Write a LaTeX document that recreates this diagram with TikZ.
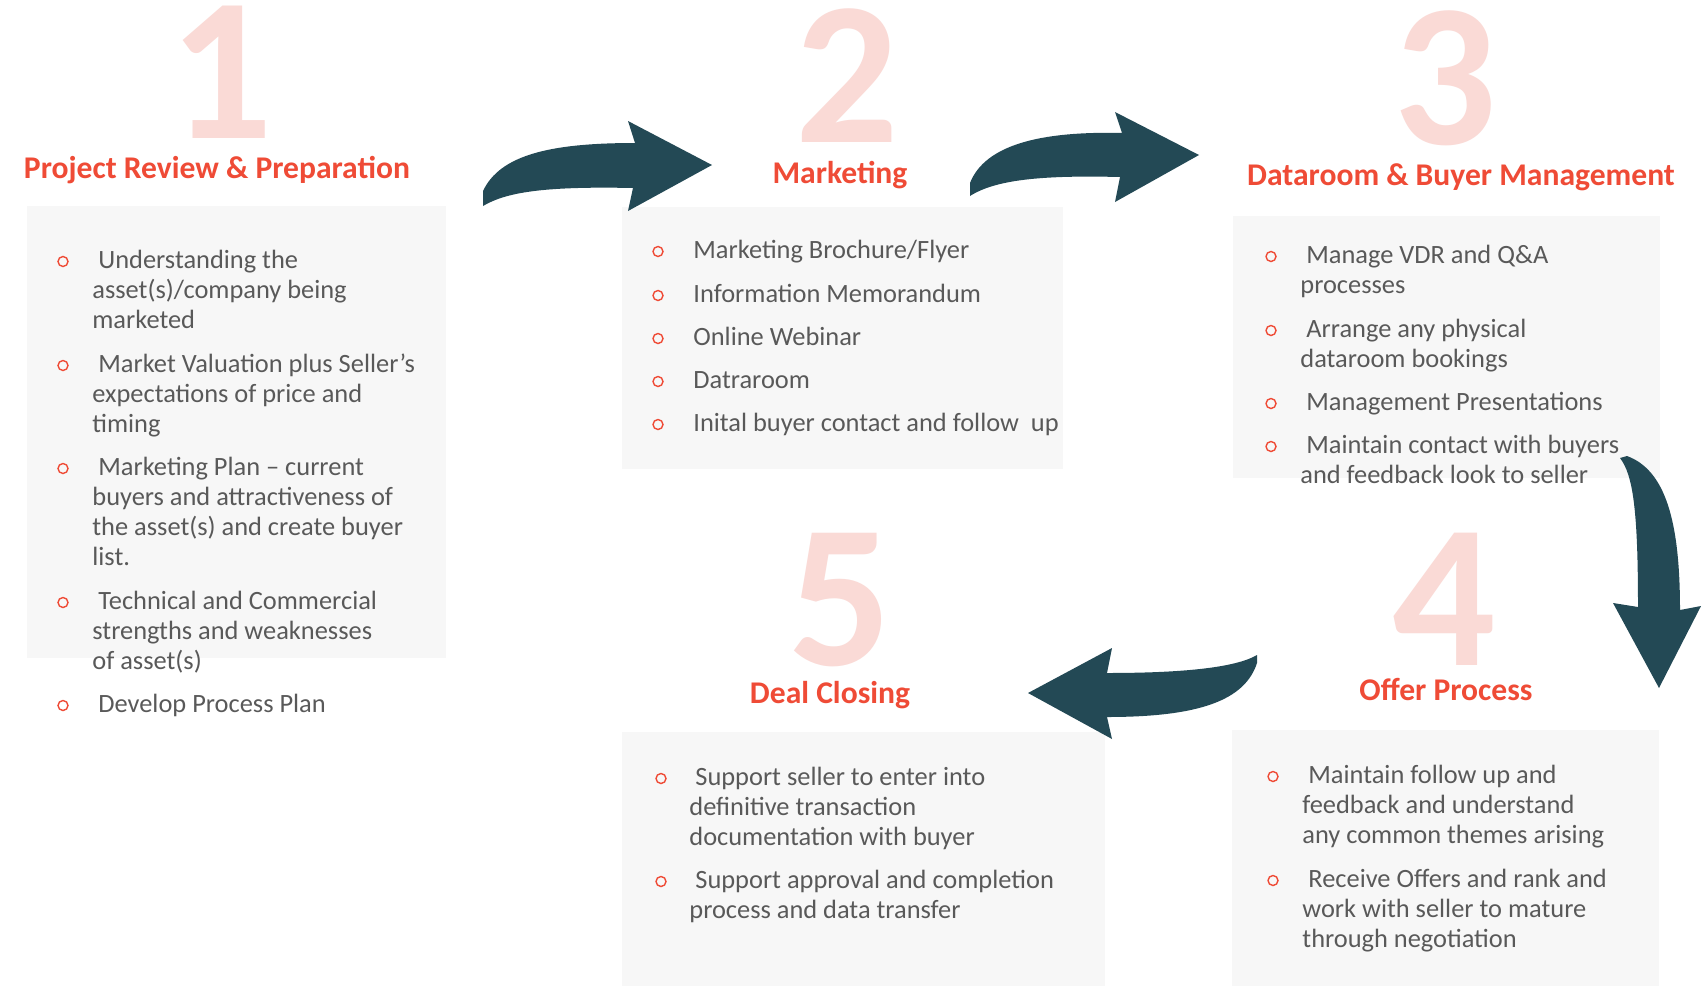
\documentclass[tikz,border=0pt]{standalone}
\usepackage{fontspec}
\setmainfont{Carlito}
\definecolor{tred}{HTML}{EF4B36}
\definecolor{tpink}{HTML}{FADAD6}
\definecolor{tgrey}{HTML}{595959}
\definecolor{tbox}{HTML}{F7F7F7}
\definecolor{tarrow}{HTML}{234955}
\newcommand\linesof[1]{\begin{tabular}[t]{@{}l@{}}#1\end{tabular}}
\begin{document}
\begin{tikzpicture}[x=0.5pt,y=-0.5pt,
  bignum/.style={anchor=base, inner sep=0, text height=64pt, text depth=0pt, text=tpink, font=\fontsize{102pt}{102pt}\selectfont\bfseries},
  ttl/.style={anchor=base, inner sep=0, text height=11pt, text depth=3pt, text=tred, font=\fontsize{15.8pt}{18pt}\selectfont\bfseries},
  panel/.style={fill=tbox, draw=none},
  bul/.style={circle, draw=tred, line width=0.7pt, minimum size=5pt, inner sep=0},
  itm/.style={anchor=base west, inner sep=0, text=tgrey, font=\fontsize{13.2pt}{15pt}\selectfont},
  blockarrow/.style={fill=tarrow, draw=none}]
\useasboundingbox (0,0) rectangle (1703,986);
\fill[white] (0,0) rectangle (1703,986);

% panels
\fill[panel] (27,206) rectangle (446,658);
\fill[panel] (622,207) rectangle (1063,469);
\fill[panel] (1233,216) rectangle (1660,478);
\fill[panel] (1232,730) rectangle (1659,986);
\fill[panel] (622,732) rectangle (1105,986);

% big numbers
\node[bignum] (n1) at (221,138) {1};
\node[bignum] (n2) at (847,142) {2};
\node[bignum] (n3) at (1445,144) {3};
\node[bignum] (n4) at (1444,665) {4};
\node[bignum] (n5) at (840,665) {5};

% titles
\node[ttl] (t1) at (217,178) {Project Review \& Preparation};
\node[ttl] (t2) at (840,183) {Marketing};
\node[ttl] (t3) at (1461,185) {Dataroom \& Buyer Management};
\node[ttl] (t4) at (1446,700) {Offer Process};
\node[ttl] (t5) at (830,703) {Deal Closing};

% box 1
\node[bul] (c1a) at (63,261.5) {};
\node[itm] (i1a) at (92,268) {\linesof{\hspace*{3pt}Understanding the\\asset(s)/company being\\marketed}};
\node[bul] (c1b) at (63,365.5) {};
\node[itm] (i1b) at (92,372) {\linesof{\hspace*{3pt}Market Valuation plus Seller’s\\expectations of price and\\timing}};
\node[bul] (c1c) at (63,468.5) {};
\node[itm] (i1c) at (92,475) {\linesof{\hspace*{3pt}Marketing Plan – current\\buyers and attractiveness of\\the asset(s) and create buyer\\list.}};
\node[bul] (c1d) at (63,602.5) {};
\node[itm] (i1d) at (92,609) {\linesof{\hspace*{3pt}Technical and Commercial\\strengths and weaknesses\\of asset(s)}};
\node[bul] (c1e) at (63,705.5) {};
\node[itm] (i1e) at (92,712) {\linesof{\hspace*{3pt}Develop Process Plan}};

% box 2
\node[bul] (c2a) at (658,251.5) {};
\node[itm] (i2a) at (693,258) {Marketing Brochure/Flyer};
\node[bul] (c2b) at (658,295.5) {};
\node[itm] (i2b) at (693,302) {Information Memorandum};
\node[bul] (c2c) at (658,338.5) {};
\node[itm] (i2c) at (693,345) {Online Webinar};
\node[bul] (c2d) at (658,381.5) {};
\node[itm] (i2d) at (693,388) {Datraroom};
\node[bul] (c2e) at (658,424.5) {};
\node[itm] (i2e) at (693,431) {Inital buyer contact and follow~ up};

% box 3
\node[bul] (c3a) at (1271,256.5) {};
\node[itm] (i3a) at (1300,263) {\linesof{\hspace*{3pt}Manage VDR and Q\&A\\processes}};
\node[bul] (c3b) at (1271,330.5) {};
\node[itm] (i3b) at (1300,337) {\linesof{\hspace*{3pt}Arrange any physical\\dataroom bookings}};
\node[bul] (c3c) at (1271,403.5) {};
\node[itm] (i3c) at (1300,410) {\linesof{\hspace*{3pt}Management Presentations}};
\node[bul] (c3d) at (1271,446.5) {};
\node[itm] (i3d) at (1300,453) {\linesof{\hspace*{3pt}Maintain contact with buyers\\and feedback look to seller}};

% box 4
\node[bul] (c4a) at (1273,776.5) {};
\node[itm] (i4a) at (1302,783) {\linesof{\hspace*{3pt}Maintain follow up and\\feedback and understand\\any common themes arising}};
\node[bul] (c4b) at (1273,880.5) {};
\node[itm] (i4b) at (1302,887) {\linesof{\hspace*{3pt}Receive Offers and rank and\\work with seller to mature\\through negotiation}};

% box 5
\node[bul] (c5a) at (661,778.5) {};
\node[itm] (i5a) at (689,785) {\linesof{\hspace*{3pt}Support seller to enter into\\definitive transaction\\documentation with buyer}};
\node[bul] (c5b) at (661,881.5) {};
\node[itm] (i5b) at (689,888) {\linesof{\hspace*{3pt}Support approval and completion\\process and data transfer}};

% block arrows
\fill[blockarrow] (483,206) .. controls (505,193) and (540,186) .. (633,188)
  -- (628,211) -- (712,165) -- (628,121) -- (635,143)
  .. controls (550,143) and (500,155) .. (483,191) -- cycle;
\fill[blockarrow] (970,196) .. controls (995,180) and (1040,175) .. (1120,177)
  -- (1115,202) -- (1199,155) -- (1115,112) -- (1122,133)
  .. controls (1040,131) and (985,145) .. (970,183) -- cycle;
\fill[blockarrow] (1620,458) .. controls (1633,475) and (1638,510) .. (1638,607)
  -- (1613,603) -- (1659,688) -- (1701,606) -- (1680,610)
  .. controls (1680,520) and (1665,470) .. (1627,456) -- cycle;
\fill[blockarrow] (1107,673) .. controls (1180,673) and (1235,668) .. (1257,655)
  -- (1257,663) .. controls (1245,700) and (1200,717) .. (1107,717)
  -- (1112,739) -- (1028,693) -- (1112,648) -- cycle;
\end{tikzpicture}
\end{document}
